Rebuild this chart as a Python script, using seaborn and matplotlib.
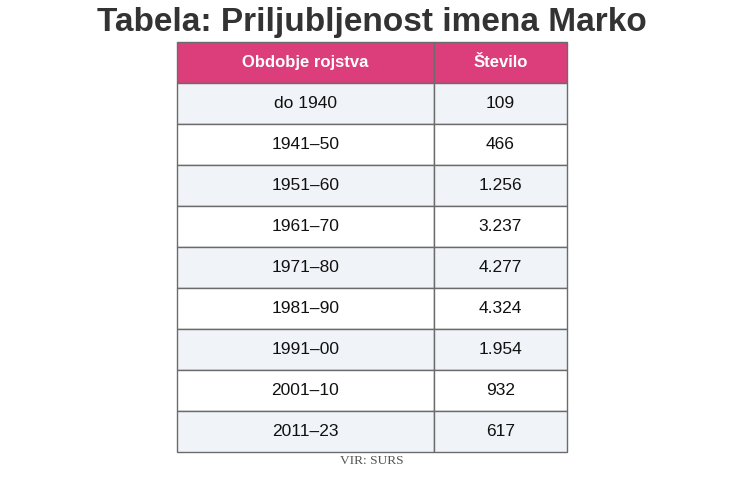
import matplotlib
matplotlib.use("Agg")
import matplotlib.pyplot as plt
from matplotlib.patches import Rectangle
import seaborn as sns

title = "Tabela: Priljubljenost imena Marko"
headers = ["Obdobje rojstva", "Število"]
periods = ["do 1940", "1941–50", "1951–60", "1961–70", "1971–80",
           "1981–90", "1991–00", "2001–10", "2011–23"]
counts = ["109", "466", "1.256", "3.237", "4.277", "4.324", "1.954", "932", "617"]
source = "VIR: SURS"

sns.set_theme(style="white")
plt.rcParams['font.family'] = ['Liberation Sans', 'DejaVu Sans']

W, H = 754, 478
fig = plt.figure(figsize=(W / 100, H / 100), dpi=100)
fig.patch.set_facecolor("white")

left, right, top, bottom = 177, 567, 42, 452
ax = fig.add_axes([left / W, 1 - bottom / H, (right - left) / W, (bottom - top) / H])
ax.set_xlim(0, right - left)
nrows = len(periods) + 1
ax.set_ylim(nrows, 0)
ax.axis("off")

col_edges = [0, 257, right - left]
header_color = "#db3e7b"
stripe = "#f0f3f7"
border = "#6b6b6b"

# header
for c in range(2):
    x0, x1 = col_edges[c], col_edges[c + 1]
    ax.add_patch(Rectangle((x0, 0), x1 - x0, 1, facecolor=header_color,
                           edgecolor=border, linewidth=1.0, clip_on=False))
    ax.text((x0 + x1) / 2, 0.5, headers[c], ha="center", va="center",
            color="white", fontsize=12, fontweight="bold")

for i, (p, n) in enumerate(zip(periods, counts)):
    r = i + 1
    fc = stripe if i % 2 == 0 else "white"
    for c, txt in enumerate([p, n]):
        x0, x1 = col_edges[c], col_edges[c + 1]
        ax.add_patch(Rectangle((x0, r), x1 - x0, 1, facecolor=fc,
                               edgecolor=border, linewidth=1.0, clip_on=False))
        ax.text((x0 + x1) / 2, r + 0.5, txt, ha="center", va="center",
                color="#111111", fontsize=12.5)

fig.text(372 / W, 1 - 22 / H, title, ha="center", va="center",
         fontsize=24, fontweight="bold", color="#333333")
fig.text(372 / W, 1 - 461 / H, source, ha="center", va="center",
         fontsize=9.6, color="#555555", family=["Liberation Serif", "DejaVu Serif"])

fig.savefig("out.png", dpi=100)
